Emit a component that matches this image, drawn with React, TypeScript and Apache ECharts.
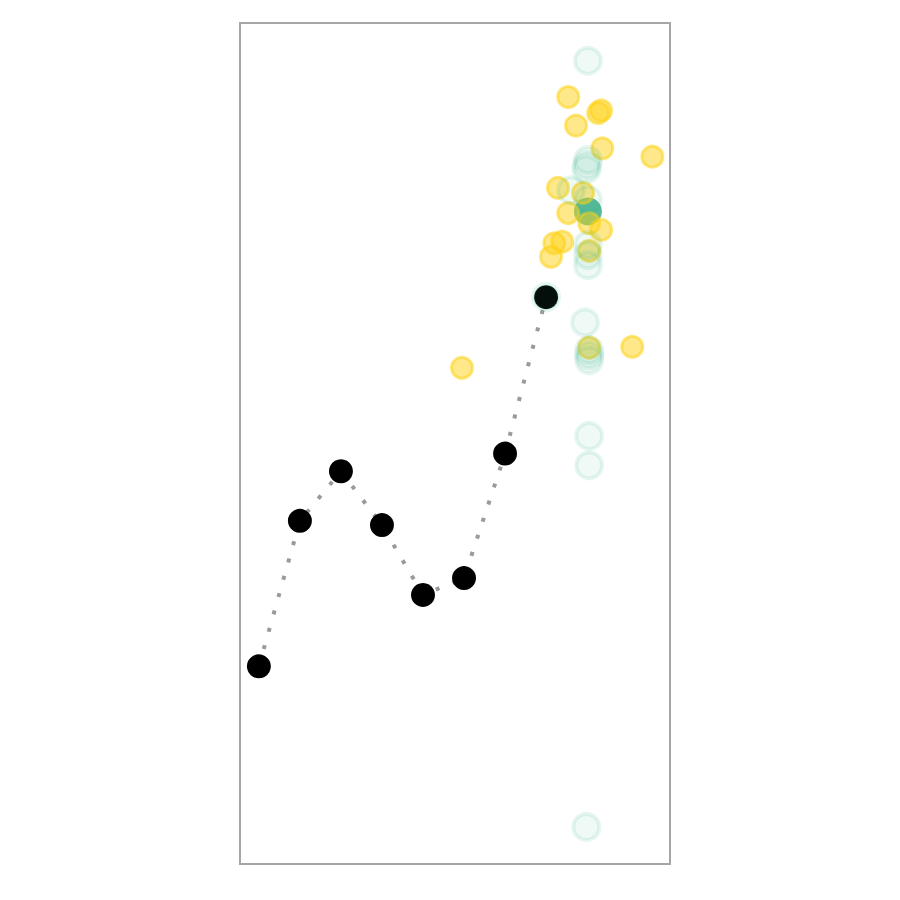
import React, { useEffect, useRef } from "react";
import * as echarts from "echarts";

// Observed series (x = step index, y = value)
const observedX = [0, 1, 2, 3, 4, 5, 6, 7];
const observedY = [23.5, 40.8, 46.7, 40.3, 32.0, 34.0, 48.8, 67.4];

// Faint teal samples
const faintX = [8.02, 8.02, 8.0, 7.98, 7.61, 8.02, 8.02, 8.02, 8.02, 7.0, 7.95, 8.05, 8.05, 8.05, 8.05, 8.05, 7.98];
const faintY = [95.5, 83.7, 83.1, 82.6, 80.1, 79.0, 73.6, 72.4, 71.2, 67.4, 64.4, 61.1, 60.5, 59.9, 50.9, 47.4, 4.4];

// Highlighted teal point
const meanX = [8.02];
const meanY = [77.6];

// Yellow samples
const yellowX = [7.54, 8.27, 8.34, 7.73, 8.37, 9.59, 7.29, 7.9, 7.54, 8.05, 8.34, 7.39, 7.2, 7.12, 8.05, 8.05, 9.1, 4.95];
const yellowY = [91.2, 89.3, 89.6, 87.8, 85.1, 84.1, 80.4, 79.8, 77.4, 76.2, 75.4, 74.0, 73.8, 72.2, 72.9, 61.4, 61.5, 59.0];

const zip = (xs: number[], ys: number[]) => xs.map((x, i) => [x, ys[i]]);

export default function App() {
  const ref = useRef<HTMLDivElement>(null);
  useEffect(() => {
    if (!ref.current) return;
    const chart = echarts.init(ref.current, null, { renderer: "svg" });
    chart.setOption({
      animation: false,
      grid: {
        left: 240,
        top: 23,
        width: 430,
        height: 841,
        show: true,
        borderColor: "#a6a6a6",
        borderWidth: 2,
        backgroundColor: "transparent",
      },
      xAxis: {
        type: "value",
        min: -0.46,
        max: 10.02,
        show: false,
      },
      yAxis: {
        type: "value",
        min: 0,
        max: 100,
        show: false,
      },
      series: [
        {
          type: "line",
          data: zip(observedX, observedY),
          showSymbol: false,
          symbol: "none",
          lineStyle: { color: "#9a9a9a", width: 4, type: [4, 14], cap: "butt" },
          z: 1,
        },
        {
          type: "scatter",
          data: zip(observedX, observedY),
          symbolSize: 24,
          itemStyle: { color: "#000000", opacity: 1 },
          z: 2,
        },
        {
          type: "scatter",
          data: zip(meanX, meanY),
          symbolSize: 28,
          itemStyle: { color: "#55b99a", opacity: 1 },
          z: 3,
        },
        {
          type: "scatter",
          data: zip(yellowX, yellowY),
          symbolSize: 21,
          itemStyle: {
            color: "rgba(253,210,20,0.5)",
            borderColor: "rgba(253,210,20,0.55)",
            borderWidth: 3,
            opacity: 1,
          },
          z: 4,
        },
        {
          type: "scatter",
          data: zip(faintX, faintY),
          symbolSize: 26,
          itemStyle: {
            color: "rgba(53,183,140,0.08)",
            borderColor: "rgba(53,183,140,0.12)",
            borderWidth: 4,
            opacity: 1,
          },
          z: 5,
        },
      ],
    });
    return () => chart.dispose();
  }, []);
  return (
    <div
      ref={ref}
      style={{ position: "fixed", left: 0, top: 0, width: 900, height: 900, background: "#fff" }}
    />
  );
}
